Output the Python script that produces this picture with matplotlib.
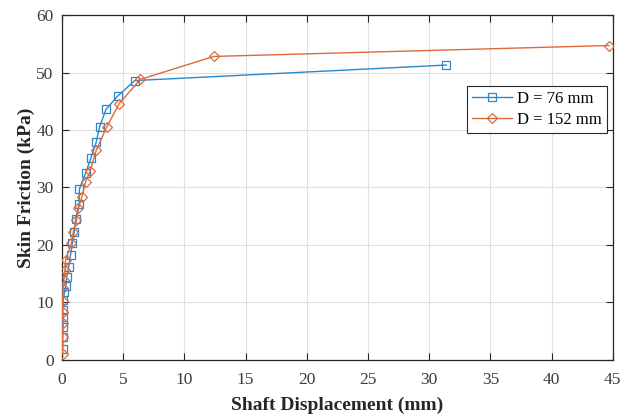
"""
Skin friction vs shaft displacement for two shaft diameters.
"""
import matplotlib
matplotlib.use('Agg')
import matplotlib.pyplot as plt

# ============================================================
# DATA
# ============================================================
disp_76 = [0.05, 0.05, 0.05, 0.05, 0.05, 0.1, 0.2, 0.3, 0.38, 0.55, 0.7,
           0.85, 1.0, 1.12, 1.4, 1.42, 1.93, 2.38, 2.8, 3.08, 3.6, 4.55,
           5.95, 31.4]
fric_76 = [1.9, 4.0, 5.8, 7.4, 8.7, 10.4, 11.8, 12.9, 14.4, 16.2, 18.3,
           20.3, 22.3, 24.5, 27.1, 29.7, 32.5, 35.2, 37.9, 40.6, 43.6, 45.9,
           48.6, 51.3]

disp_152 = [0.05, 0.05, 0.1, 0.05, 0.05, 0.1, 0.15, 0.25, 0.3, 0.77, 0.93,
            1.18, 1.34, 1.63, 1.93, 2.28, 2.82, 3.65, 4.68, 6.4, 12.4, 44.7]
fric_152 = [1.0, 3.9, 6.5, 8.4, 10.3, 12.5, 13.9, 15.7, 17.4, 20.3, 22.3,
            24.3, 26.4, 28.4, 31.0, 32.8, 36.6, 40.5, 44.6, 48.8, 52.8, 54.7]

x_ticks = list(range(0, 50, 5))
y_ticks = list(range(0, 70, 10))

BLUE = '#2a88cc'
ORANGE = '#e0693a'
INK = '#262626'
TICK_TXT = '#3c3c3c'

plt.rcParams['font.family'] = ['Liberation Serif', 'DejaVu Serif']

# ============================================================
# FIGURE
# ============================================================
fig = plt.figure(figsize=(6.28, 4.18), dpi=100, facecolor='white')
ax = fig.add_axes([0.0987, 0.139, 0.877, 0.825])

ax.plot(disp_76, fric_76, color=BLUE, linewidth=1.0, marker='s',
        markersize=5.5, markerfacecolor='none', markeredgecolor=BLUE,
        markeredgewidth=0.9, label='D = 76 mm', zorder=3)
ax.plot(disp_152, fric_152, color=ORANGE, linewidth=1.0, marker='D',
        markersize=5.5, markerfacecolor='none', markeredgecolor=ORANGE,
        markeredgewidth=0.9, label='D = 152 mm', zorder=3)

ax.set_xlim(0, 45)
ax.set_ylim(0, 60)
ax.set_xticks(x_ticks)
ax.set_yticks(y_ticks)

ax.grid(True, color='#e0e0e0', linewidth=0.8)
ax.set_axisbelow(True)

ax.tick_params(direction='in', length=5, width=0.8, colors=INK,
               labelcolor=TICK_TXT, labelsize=12.5, top=True, right=True)
ax.tick_params(axis='x', pad=9)
ax.tick_params(axis='y', pad=6)
for spine in ax.spines.values():
    spine.set_color(INK)
    spine.set_linewidth(0.9)

ax.set_xlabel('Shaft Displacement (mm)', fontsize=14, fontweight='bold',
              color=INK, labelpad=6)
ax.set_ylabel('Skin Friction (kPa)', fontsize=14, fontweight='bold',
              color=INK, labelpad=1)

leg = ax.legend(loc='upper right', bbox_to_anchor=(0.99, 0.795),
                fontsize=12, frameon=True, fancybox=False,
                edgecolor=INK, framealpha=1, borderpad=0.3,
                handlelength=2.4, handletextpad=0.3, labelspacing=0.3,
                borderaxespad=0)
leg.get_frame().set_linewidth(0.8)

plt.savefig('out.png', dpi=100, facecolor='white')
plt.close()
